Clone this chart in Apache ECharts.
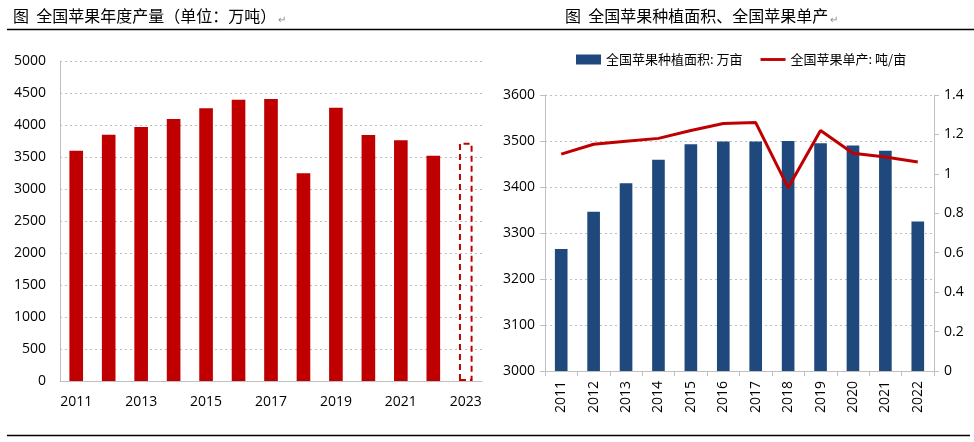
<!DOCTYPE html>
<html>
<head>
<meta charset="utf-8">
<script src="https://cdn.jsdelivr.net/npm/echarts@6/dist/echarts.min.js"></script>
<style>
  html, body { margin: 0; padding: 0; background: #fff; }
  #chart { width: 974px; height: 442px; }
</style>
</head>
<body>
<div id="chart"></div>
<script>
// 左图：全国苹果年度产量（万吨）
const outputYears = ['2011','2012','2013','2014','2015','2016','2017','2018','2019','2020','2021','2022','2023'];
const outputValues = [3598, 3849, 3970, 4092, 4261, 4396, 4406, 3245, 4271, 3845, 3760, 3520, 3724];
const outputTicks = [0, 500, 1000, 1500, 2000, 2500, 3000, 3500, 4000, 4500, 5000];

// 右图：种植面积（万亩）与单产（吨/亩）
const areaYears = ['2011','2012','2013','2014','2015','2016','2017','2018','2019','2020','2021','2022'];
const areaValues = [3265, 3346, 3408, 3459, 3493, 3499, 3499, 3500, 3495, 3490, 3479, 3325];
const yieldValues = [1.10, 1.15, 1.165, 1.18, 1.22, 1.255, 1.26, 0.93, 1.22, 1.105, 1.085, 1.06];
const areaTicks = [3000, 3100, 3200, 3300, 3400, 3500, 3600];
const yieldTicks = [0, 0.2, 0.4, 0.6, 0.8, 1, 1.2, 1.4];

const AREA_NAME = '全国苹果种植面积: 万亩';
const YIELD_NAME = '全国苹果单产: 吨/亩';

const RED = '#c00000';
const BLUE = '#1f497d';
const labelFont = "'Open Sans', 'Noto Sans', sans-serif";
const cjkFont = "'Noto Sans CJK SC', sans-serif";

let myChart = echarts.init(document.getElementById('chart'));

const gridLine = {
    show: true,
    lineStyle: { color: '#bfbfbf', type: [2, 3], width: 1 }
};
const axisText = { color: '#000', fontSize: 14, fontFamily: labelFont };
const plain = v => String(v);

// 最后一年是预测值，用虚线框表示
const outputData = outputValues.map((v, i) => {
    if (i === outputValues.length - 1) {
        return {
            value: v,
            itemStyle: { color: 'rgba(0,0,0,0)', borderColor: RED, borderWidth: 2, borderType: [6, 4] }
        };
    }
    return v;
});

let options = {
    animation: false,
    title: [
        {
            text: '图  全国苹果年度产量（单位：万吨）{r|↵}',
            left: 8, top: 3,
            textStyle: {
                fontSize: 16, fontWeight: 'normal', color: '#000', fontFamily: cjkFont,
                rich: { r: { fontSize: 10, color: '#888', padding: [6, 0, 0, 2] } }
            }
        },
        {
            text: '图  全国苹果种植面积、全国苹果单产{r|↵}',
            left: 560, top: 3,
            textStyle: {
                fontSize: 16, fontWeight: 'normal', color: '#000', fontFamily: cjkFont,
                rich: { r: { fontSize: 10, color: '#888', padding: [6, 0, 0, 2] } }
            }
        }
    ],
    legend: {
        data: [
            { name: AREA_NAME, icon: 'rect' },
            { name: YIELD_NAME, icon: 'path://M0,0 L26,0 L26,3 L0,3 Z' }
        ],
        left: 571, top: 48,
        itemWidth: 25, itemHeight: 10,
        itemGap: 18,
        textStyle: { fontSize: 13, color: '#000', fontFamily: cjkFont }
    },
    grid: [
        { left: 60, right: 492, top: 61, bottom: 61 },
        { left: 545, right: 40, top: 95, bottom: 71 }
    ],
    xAxis: [
        {
            type: 'category',
            gridIndex: 0,
            data: outputYears,
            axisLine: { lineStyle: { color: '#bfbfbf' } },
            axisTick: { show: false },
            axisLabel: Object.assign({ interval: 1, margin: 14 }, axisText)
        },
        {
            type: 'category',
            gridIndex: 1,
            data: areaYears,
            axisLine: { lineStyle: { color: '#bfbfbf' } },
            axisTick: { show: true, length: 5, lineStyle: { color: '#bfbfbf' } },
            axisLabel: Object.assign({ interval: 0, rotate: 90, margin: 10 }, axisText)
        }
    ],
    yAxis: [
        {
            type: 'value',
            gridIndex: 0,
            min: outputTicks[0],
            max: outputTicks[outputTicks.length - 1],
            interval: 500,
            axisLine: { show: true, lineStyle: { color: '#bfbfbf' } },
            axisTick: { show: false },
            splitLine: gridLine,
            axisLabel: Object.assign({ margin: 14, formatter: plain }, axisText)
        },
        {
            type: 'value',
            gridIndex: 1,
            min: areaTicks[0],
            max: areaTicks[areaTicks.length - 1],
            interval: 100,
            axisLine: { show: true, lineStyle: { color: '#bfbfbf' } },
            axisTick: { show: true, length: 5, lineStyle: { color: '#bfbfbf' } },
            splitLine: gridLine,
            axisLabel: Object.assign({ margin: 10, formatter: plain }, axisText)
        },
        {
            type: 'value',
            gridIndex: 1,
            position: 'right',
            min: yieldTicks[0],
            max: yieldTicks[yieldTicks.length - 1],
            interval: 0.2,
            axisLine: { show: true, lineStyle: { color: '#bfbfbf' } },
            axisTick: { show: true, length: 5, lineStyle: { color: '#bfbfbf' } },
            splitLine: { show: false },
            axisLabel: Object.assign({ margin: 10 }, axisText)
        }
    ],
    series: [
        {
            name: '全国苹果年度产量',
            type: 'bar',
            xAxisIndex: 0,
            yAxisIndex: 0,
            barWidth: '42%',
            itemStyle: { color: RED },
            data: outputData
        },
        {
            name: AREA_NAME,
            type: 'bar',
            xAxisIndex: 1,
            yAxisIndex: 1,
            barWidth: '39%',
            itemStyle: { color: BLUE },
            data: areaValues
        },
        {
            name: YIELD_NAME,
            type: 'line',
            xAxisIndex: 1,
            yAxisIndex: 2,
            symbol: 'none',
            lineStyle: { color: RED, width: 3 },
            itemStyle: { color: RED },
            data: yieldValues
        }
    ],
    graphic: [
        { type: 'line', shape: { x1: 7, y1: 29.5, x2: 974, y2: 29.5 }, style: { stroke: '#000', lineWidth: 1.5 } },
        { type: 'line', shape: { x1: 7, y1: 435.5, x2: 970, y2: 435.5 }, style: { stroke: '#000', lineWidth: 1.5 } }
    ]
};

myChart.setOption(options);
</script>
</body>
</html>
